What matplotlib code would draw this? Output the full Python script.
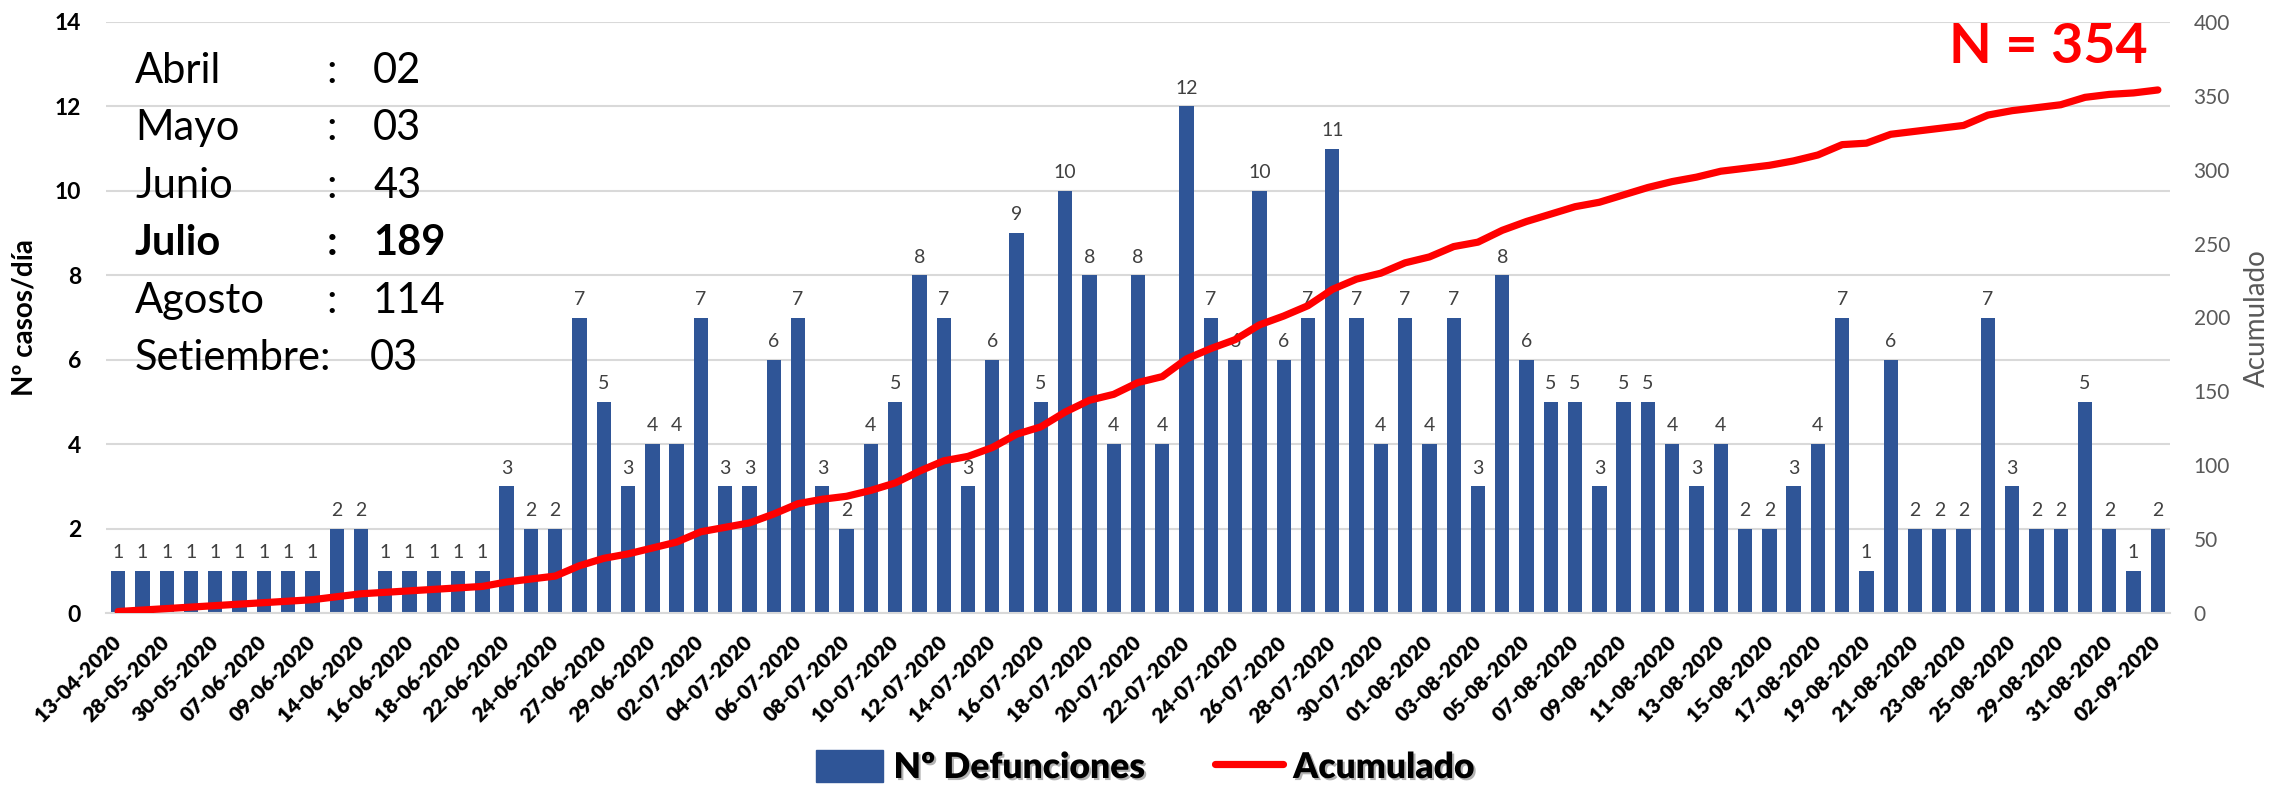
import numpy as np
import matplotlib
matplotlib.use("Agg")
import matplotlib.pyplot as plt
import matplotlib.patheffects as pe
from matplotlib.patches import Patch
from matplotlib.lines import Line2D

plt.rcParams['font.family'] = ['Lato', 'DejaVu Sans']

dates = [
    "13-04-2020", "20-04-2020",
    "28-05-2020", "29-05-2020", "30-05-2020",
    "05-06-2020", "07-06-2020", "08-06-2020", "09-06-2020", "12-06-2020",
    "14-06-2020", "15-06-2020", "16-06-2020", "17-06-2020", "18-06-2020",
    "20-06-2020", "22-06-2020", "23-06-2020", "24-06-2020", "25-06-2020",
    "27-06-2020", "28-06-2020", "29-06-2020", "30-06-2020",
    "02-07-2020", "03-07-2020", "04-07-2020", "05-07-2020", "06-07-2020",
    "07-07-2020", "08-07-2020", "09-07-2020", "10-07-2020", "11-07-2020",
    "12-07-2020", "13-07-2020", "14-07-2020", "15-07-2020", "16-07-2020",
    "17-07-2020", "18-07-2020", "19-07-2020", "20-07-2020", "21-07-2020",
    "22-07-2020", "23-07-2020", "24-07-2020", "25-07-2020", "26-07-2020",
    "27-07-2020", "28-07-2020", "29-07-2020", "30-07-2020", "31-07-2020",
    "01-08-2020", "02-08-2020", "03-08-2020", "04-08-2020", "05-08-2020",
    "06-08-2020", "07-08-2020", "08-08-2020", "09-08-2020", "10-08-2020",
    "11-08-2020", "12-08-2020", "13-08-2020", "14-08-2020", "15-08-2020",
    "16-08-2020", "17-08-2020", "18-08-2020", "19-08-2020", "20-08-2020",
    "21-08-2020", "22-08-2020", "23-08-2020", "24-08-2020", "25-08-2020",
    "27-08-2020", "29-08-2020", "30-08-2020", "31-08-2020",
    "01-09-2020", "02-09-2020",
]

defunciones = [
    1, 1, 1, 1, 1, 1, 1, 1, 1, 2, 2, 1, 1, 1, 1, 1, 3, 2, 2, 7,
    5, 3, 4, 4, 7, 3, 3, 6, 7, 3, 2, 4, 5, 8, 7, 3, 6, 9, 5, 10,
    8, 4, 8, 4, 12, 7, 6, 10, 6, 7, 11, 7, 4, 7, 4, 7, 3, 8, 6, 5,
    5, 3, 5, 5, 4, 3, 4, 2, 2, 3, 4, 7, 1, 6, 2, 2, 2, 7, 3, 2,
    2, 5, 2, 1, 2,
]

acumulado = np.cumsum(defunciones)

meses = ["Abril", "Mayo", "Junio", "Julio", "Agosto", "Setiembre:"]
meses_valor = ["02", "03", "43", "189", "114", "03"]

left_ticks = [0, 2, 4, 6, 8, 10, 12, 14]
right_ticks = [0, 50, 100, 150, 200, 250, 300, 350, 400]

BAR = "#2F5597"
RED = "#FF0000"
GRID = "#D9D9D9"

W, H = 2274, 792
fig = plt.figure(figsize=(W / 100, H / 100), dpi=100)
ax = fig.add_axes([106 / W, 1 - 613 / H, (2170 - 106) / W, (613 - 22) / H])

x = np.arange(len(dates))
ax.bar(x, defunciones, width=0.59, color=BAR, zorder=2)
ax.set_xlim(-0.5, len(dates) - 0.5)
ax.set_ylim(0, 14)
ax.set_yticks(left_ticks)
ax.set_yticklabels([str(t) for t in left_ticks], fontsize=16.5, fontweight='bold')
ax.grid(axis='y', color=GRID, linewidth=1.5, zorder=0)
ax.set_axisbelow(True)
for s in ['top', 'right', 'left']:
    ax.spines[s].set_visible(False)
ax.spines['bottom'].set_color(GRID)
ax.spines['bottom'].set_linewidth(1.5)
ax.tick_params(axis='y', length=0, pad=18)
ax.tick_params(axis='x', length=0, pad=19)
ax.set_xticks(x[::2])
ax.set_xticklabels(dates[::2], rotation=45, ha='right', va='center',
                   rotation_mode='anchor', fontsize=15, fontweight='heavy')

for xi, v in zip(x, defunciones):
    ax.annotate(str(v), (xi, v), xytext=(0, 7), textcoords='offset points',
                ha='center', va='bottom', fontsize=14, color='#404040')

ax2 = ax.twinx()
ax2.plot(x, acumulado, color=RED, linewidth=5.2, solid_capstyle='round',
         solid_joinstyle='round', zorder=3)
ax2.set_ylim(0, 400)
ax2.set_yticks(right_ticks)
ax2.set_yticklabels([str(t) for t in right_ticks], fontsize=15, color='#595959')
ax2.tick_params(axis='y', length=0, pad=17)
for s in ['top', 'right', 'left', 'bottom']:
    ax2.spines[s].set_visible(False)

fig.text(25 / W, 1 - 318 / H, "Nº casos/día", rotation=90, ha='center', va='center',
         fontsize=20, fontweight='bold', color='black')
fig.text(2257 / W, 1 - 318 / H, "Acumulado", rotation=90, ha='center', va='center',
         fontsize=20, color='#595959')

# monthly summary
y0 = 83
dy = 57.4
for i, (m, v) in enumerate(zip(meses, meses_valor)):
    yb = 1 - (y0 + i * dy) / H
    fw = 'bold' if m == "Julio" else 'normal'
    fig.text(135 / W, yb, m, ha='left', va='baseline', fontsize=30, fontweight=fw)
    if not m.endswith(":"):
        fig.text(332 / W, yb, ":", ha='center', va='baseline', fontsize=30, fontweight=fw)
        fig.text(373 / W, yb, v, ha='left', va='baseline', fontsize=30, fontweight=fw)
    else:
        fig.text(370 / W, yb, v, ha='left', va='baseline', fontsize=30, fontweight=fw)

fig.text(2148 / W, 1 - 63 / H, "N = 354", ha='right', va='baseline',
         fontsize=40, fontweight='bold', color=RED)

handles = [Patch(facecolor=BAR, edgecolor=BAR),
           Line2D([0], [0], color=RED, linewidth=5.2, solid_capstyle='round')]
leg = fig.legend(handles, ["Nº Defunciones", "Acumulado"], loc='center',
                 bbox_to_anchor=(1145 / W, 1 - 767 / H), ncol=2, frameon=False,
                 prop={'size': 25.5, 'weight': 'heavy'}, handlelength=1.9,
                 handleheight=1.0, handletextpad=0.3, columnspacing=2.0)
for t in leg.get_texts():
    t.set_path_effects([pe.withSimplePatchShadow(offset=(1.5, -1.5),
                                                 shadow_rgbFace='#7F7F7F', alpha=0.6)])

fig.savefig("out.png", dpi=100, facecolor='white')
